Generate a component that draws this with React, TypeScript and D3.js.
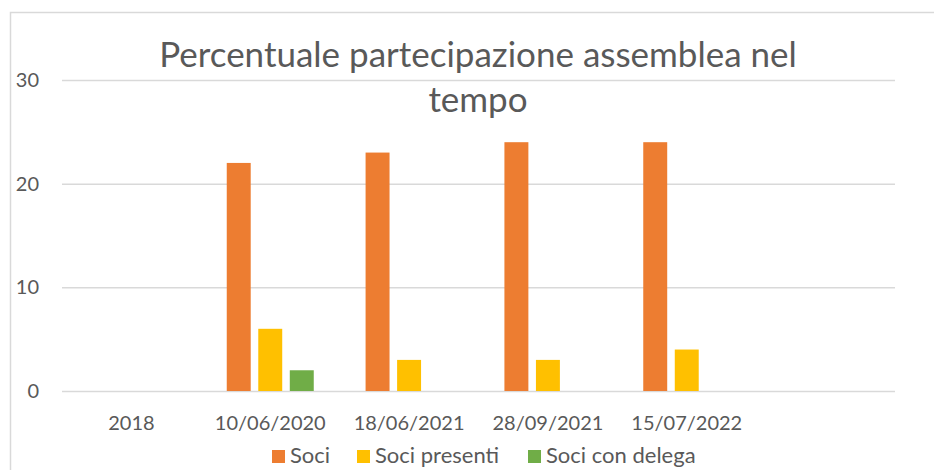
import React, { useRef, useEffect } from 'react';
import * as d3 from 'd3';

const categories = ['2018', '10/06/2020', '18/06/2021', '28/09/2021', '15/07/2022', ''];
const seriesNames = ['Soci', 'Soci presenti', 'Soci con delega'];
const soci = [0, 22, 23, 24, 24, 0];
const sociPresenti = [0, 6, 3, 3, 4, 0];
const sociDelega = [0, 2, 0, 0, 0, 0];
const yTicks = [0, 10, 20, 30];
const colors = ['#ed7d31', '#ffc000', '#70ad47'];

const FONT = 'Lato, "Open Sans", sans-serif';
const TEXT = '#595959';

const App: React.FC = () => {
  const svgRef = useRef<SVGSVGElement | null>(null);

  useEffect(() => {
    const width = 934;
    const height = 470;
    const svg = d3.select(svgRef.current);
    svg.selectAll('*').remove();
    svg.attr('width', width).attr('height', height);

    svg
      .append('rect')
      .attr('x', 10.5)
      .attr('y', 12.5)
      .attr('width', 940)
      .attr('height', 480)
      .attr('fill', '#fff')
      .attr('stroke', '#d9d9d9')
      .attr('stroke-width', 1.5);

    const left = 62;
    const right = 895;
    const top = 80;
    const bottom = 391;

    const x = d3.scaleBand<string>().domain(categories.map((c, i) => String(i))).range([left, right]);
    const y = d3.scaleLinear().domain([0, 30]).range([bottom, top]);
    const inner = d3
      .scaleBand<string>()
      .domain(seriesNames)
      .range([0, 87])
      .paddingInner(0.24);
    const groupOffset = (x.bandwidth() - 87) / 2;

    // gridlines
    svg
      .append('g')
      .selectAll('line')
      .data(yTicks)
      .enter()
      .append('line')
      .attr('x1', left)
      .attr('x2', right)
      .attr('y1', d => y(d) + 0.5)
      .attr('y2', d => y(d) + 0.5)
      .attr('stroke', '#d9d9d9')
      .attr('stroke-width', 1.5);

    // y labels
    svg
      .append('g')
      .selectAll('text')
      .data(yTicks)
      .enter()
      .append('text')
      .attr('x', 39)
      .attr('y', d => y(d) + 7)
      .attr('text-anchor', 'end')
      .attr('font-family', FONT)
      .attr('font-size', 20)
      .attr('fill', TEXT)
      .text(d => d);

    // bars
    const series = [soci, sociPresenti, sociDelega];
    series.forEach((values, si) => {
      svg
        .append('g')
        .selectAll('rect')
        .data(values)
        .enter()
        .append('rect')
        .attr('x', (d, i) => (x(String(i)) as number) + groupOffset + (inner(seriesNames[si]) as number))
        .attr('width', inner.bandwidth())
        .attr('y', d => y(d))
        .attr('height', d => bottom - y(d))
        .attr('fill', colors[si]);
    });

    // x labels
    svg
      .append('g')
      .selectAll('text')
      .data(categories)
      .enter()
      .append('text')
      .attr('x', (d, i) => (x(String(i)) as number) + x.bandwidth() / 2)
      .attr('y', 429.5)
      .attr('text-anchor', 'middle')
      .attr('font-family', FONT)
      .attr('font-size', 20)
      .attr('fill', TEXT)
      .text(d => d);

    // title
    const title = svg
      .append('text')
      .attr('text-anchor', 'middle')
      .attr('font-family', FONT)
      .attr('font-size', 35)
      .attr('fill', TEXT);
    title.append('tspan').attr('x', 478).attr('y', 67).text('Percentuale partecipazione assemblea nel');
    title.append('tspan').attr('x', 478).attr('y', 112).text('tempo');

    // legend
    const legendX = [272, 357, 528];
    const legend = svg
      .append('g')
      .selectAll('g')
      .data(seriesNames)
      .enter()
      .append('g')
      .attr('transform', (d, i) => `translate(${legendX[i]},0)`);
    legend
      .append('rect')
      .attr('x', 0)
      .attr('y', 450)
      .attr('width', 13)
      .attr('height', 13)
      .attr('fill', (d, i) => colors[i]);
    legend
      .append('text')
      .attr('x', 18)
      .attr('y', 463)
      .attr('font-family', FONT)
      .attr('font-size', 22)
      .attr('fill', TEXT)
      .text(d => d);
  }, []);

  return <svg ref={svgRef} style={{ position: 'absolute', left: 0, top: 0 }}></svg>;
};

export default App;
